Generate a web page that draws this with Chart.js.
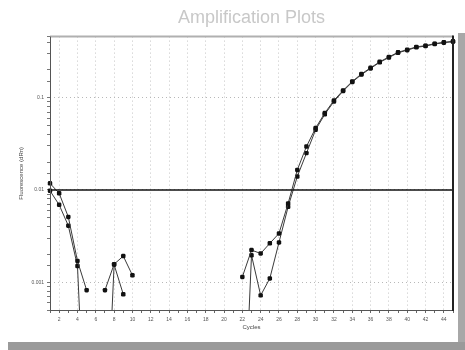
<!DOCTYPE html>
<html>
<head>
<meta charset="utf-8">
<script src="https://cdn.jsdelivr.net/npm/chart.js@4/dist/chart.umd.min.js"></script>
<style>
  html, body { margin: 0; padding: 0; background: #fff; width: 465px; height: 350px; overflow: hidden; }
  #wrap { position: absolute; left: 0; top: 0; width: 457px; height: 341px; }
  #rbar { position: absolute; left: 458px; top: 33px; width: 7px; height: 317px; background: #a8a8a8; }
  #bbar { position: absolute; left: 8px; top: 342px; width: 457px; height: 8px; background: #9a9a9a; }
</style>
</head>
<body>
<div id="wrap"><canvas id="c" width="457" height="341"></canvas></div>
<div id="rbar"></div>
<div id="bbar"></div>
<script>
// Cycle numbers
const cycles = [1,2,3,4,5,6,7,8,9,10,11,12,13,14,15,16,17,18,19,20,21,22,23,24,25,26,27,28,29,30,31,32,33,34,35,36,37,38,39,40,41,42,43,44,45];
// Replicate A fluorescence (dRn); null = not plotted (<= 0)
const replicateA = [0.0118,0.0092,0.0051,0.0017,0.00082,null,0.00082,0.00157,0.00192,0.00119,
  null,null,null,null,null,null,null,null,null,null,null,
  0.00114,0.00223,0.00205,0.00264,0.00338,0.00716,0.0165,0.0296,0.0469,0.0682,0.0935,0.120,0.150,0.181,0.211,0.245,0.277,0.311,0.332,0.356,0.367,0.386,0.399,0.409];
// Replicate B fluorescence (dRn); tiny values fall below the axis
const replicateB = [0.0098,0.0069,0.0041,0.0015,0.00001,null,0.00001,0.00155,0.00074,null,
  null,null,null,null,null,null,null,null,null,null,null,
  0.00001,0.00196,0.00072,0.0011,0.0027,0.00658,0.0140,0.0251,0.0449,0.066,0.091,0.118,0.148,0.178,0.208,0.242,0.273,0.307,0.328,0.352,0.363,0.382,0.395,0.405];
// Threshold level
const threshold = 0.01;
// Labelled y ticks
const yTickLabels = [0.1, 0.01, 0.001];

const toPts = arr => cycles.map((c, i) => ({x: c, y: arr[i]}));
const isDecade = v => yTickLabels.some(t => Math.abs(v - t) / t < 1e-6);

const framePlugin = {
  id: 'frame',
  afterDraw(chart) {
    const a = chart.chartArea, ctx = chart.ctx;
    ctx.save();
    ctx.setLineDash([]);
    ctx.strokeStyle = '#b0b0b0'; ctx.lineWidth = 2;
    ctx.beginPath(); ctx.moveTo(a.left, a.top); ctx.lineTo(a.right, a.top); ctx.stroke();
    ctx.strokeStyle = '#555'; ctx.lineWidth = 1;
    ctx.beginPath(); ctx.moveTo(a.left + 0.5, a.top); ctx.lineTo(a.left + 0.5, a.bottom + 0.5); ctx.lineTo(a.right, a.bottom + 0.5); ctx.stroke();
    ctx.strokeStyle = '#222'; ctx.lineWidth = 2;
    ctx.beginPath(); ctx.moveTo(a.right, a.top - 1); ctx.lineTo(a.right, a.bottom + 1); ctx.stroke();
    ctx.restore();
  }
};

const lineStyle = {
  borderColor: '#3a3a3a', borderWidth: 1, backgroundColor: '#111',
  pointRadius: 2.6, pointHoverRadius: 2.6, pointBorderWidth: 0, pointStyle: 'rectRounded',
  spanGaps: false, tension: 0, clip: {left: 5, top: 5, right: 5, bottom: 0}
};

new Chart(document.getElementById('c'), {
  type: 'line',
  data: {
    datasets: [
      Object.assign({label: 'Threshold', data: [{x: cycles[0], y: threshold}, {x: cycles[cycles.length - 1], y: threshold}],
        borderColor: '#111', borderWidth: 1.5, pointRadius: 0, clip: 0}),
      Object.assign({label: 'A', data: toPts(replicateA)}, lineStyle),
      Object.assign({label: 'B', data: toPts(replicateB)}, lineStyle)
    ]
  },
  options: {
    responsive: false, animation: false,
    devicePixelRatio: 1,
    layout: {padding: {left: 0, right: 4, top: 0, bottom: 0}},
    plugins: {
      legend: {display: false}, tooltip: {enabled: false},
      title: {display: true, fullSize: false, text: 'Amplification Plots', color: '#c8c8c8',
        font: {family: 'Liberation Sans, Arial, sans-serif', size: 18, weight: 'normal'},
        padding: {top: 7, bottom: 8}}
    },
    scales: {
      x: {
        type: 'linear', min: 1, max: 45,
        afterFit(s) { s.height = 31; },
        ticks: {stepSize: 1, autoSkip: false, maxRotation: 0, color: '#555', padding: 4,
          font: {family: 'Liberation Sans, Arial, sans-serif', size: 5},
          callback: v => (v % 2 === 0 ? String(v) : '')},
        grid: {color: c => (c.tick && c.tick.value % 2 === 0 ? '#c4c4c4' : 'rgba(0,0,0,0)'),
          tickColor: '#666', tickLength: 3, lineWidth: 1},
        border: {display: false, dash: [1, 3]},
        title: {display: true, text: 'Cycles', color: '#444', padding: {top: 2, bottom: 10},
          font: {family: 'Liberation Sans, Arial, sans-serif', size: 6}}
      },
      y: {
        type: 'logarithmic', min: 0.0005, max: 0.46,
        afterFit(s) { s.width = 50; },
        ticks: {autoSkip: false, color: '#555', padding: 3,
          font: {family: 'Liberation Sans, Arial, sans-serif', size: 5},
          callback: v => (isDecade(v) ? String(v) : '')},
        grid: {color: c => (c.tick && isDecade(c.tick.value) ? '#b8b8b8' : 'rgba(0,0,0,0)'),
          tickColor: '#777', tickLength: 3, lineWidth: 1},
        border: {display: false, dash: [1, 3]},
        title: {display: true, text: 'Fluorescence (dRn)', color: '#444', padding: {top: 18, bottom: 0},
          font: {family: 'Liberation Sans, Arial, sans-serif', size: 6}}
      }
    }
  },
  plugins: [framePlugin]
});
</script>
</body>
</html>
